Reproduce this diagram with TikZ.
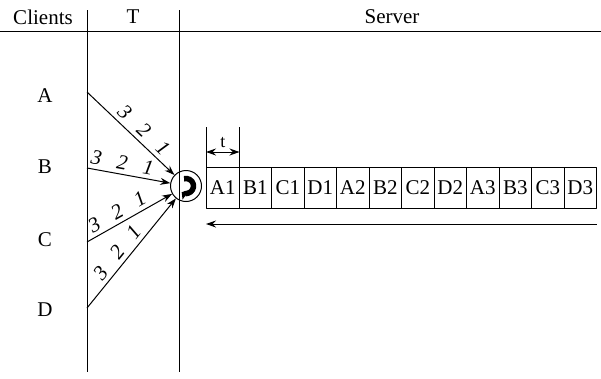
\documentclass[tikz,border=0pt]{standalone}
\usepackage{fontspec}
\setmainfont{Liberation Serif}
\usetikzlibrary{arrows.meta}
\begin{document}
\begin{tikzpicture}[x=1pt, y=-1pt, font=\fontsize{21}{23}\selectfont, line join=round, line width=1pt,
		>={Stealth[length=10pt,width=7pt]},
		slot/.style={draw, minimum width=32.5pt, minimum height=41pt, inner sep=0pt, anchor=north west},
		seq/.style={font=\itshape\fontsize{21}{22}\selectfont, sloped, above, inner sep=4pt}]
	\def\xa{87}  % border Clients | T
	\def\xb{179} % border T | Server
	\useasboundingbox (0,0) rectangle (601,378);
	% table head
	\draw (0,31)--(601,31);
	\draw (\xa,10)--(\xa,372);
	\draw (\xb,10)--(\xb,372);
	\node (hclients) at (43,17) {Clients};
	\node (ht) at (133,17) {T};
	\node (hserver) at (392,17) {Server};
	% clients
	\node (ca) at (45,96) {A};
	\node (cb) at (45,167) {B};
	\node (cc) at (45,240) {C};
	\node (cd) at (45,310) {D};
	\coordinate (pa) at (\xa,92);
	\coordinate (pb) at (\xa,168);
	\coordinate (pc) at (\xa,242);
	\coordinate (pd) at (\xa,308);
	% scheduler
	\node[circle, draw, minimum size=31pt, inner sep=0pt] (srv) at (186,186) {};
	\begin{scope}[shift={(srv.center)}, y=1pt]
		\draw[line width=5.5pt, -{Triangle[length=5pt,width=11pt]}] (105:7.5) arc[start angle=105, end angle=-125, radius=7.5];
	\end{scope}
	% requests
	\draw[->] (pa) -- (srv) node[seq, pos=0.56] {3\hspace{0.75em}2\hspace{0.75em}1};
	\draw[->] (pb) -- (srv) node[seq, pos=0.40] {3\hspace{0.75em}2\hspace{0.75em}1};
	\draw[->] (pc) -- (srv) node[seq, pos=0.42] {3\hspace{0.75em}2\hspace{0.75em}1};
	\draw[->] (pd) -- (srv) node[seq, pos=0.44] {3\hspace{0.75em}2\hspace{0.75em}1};
	% time slots
	\foreach \s [count=\i from 0] in {A1,B1,C1,D1,A2,B2,C2,D2,A3,B3,C3,D3}
		\node[slot] (s\i) at (206+32.5*\i,167) {\s};
	\draw (s0.north west) -- ([yshift=40pt]s0.north west);
	\draw (s0.north east) -- ([yshift=40pt]s0.north east);
	\draw[<->] ([yshift=15pt]s0.north west) -- ([yshift=15pt]s0.north east) node[midway, above, font=\fontsize{18}{20}\selectfont] {t};
	\draw[<-] ([yshift=-15pt]s0.south west) -- ([yshift=-15pt]s11.south east);
\end{tikzpicture}
\end{document}
